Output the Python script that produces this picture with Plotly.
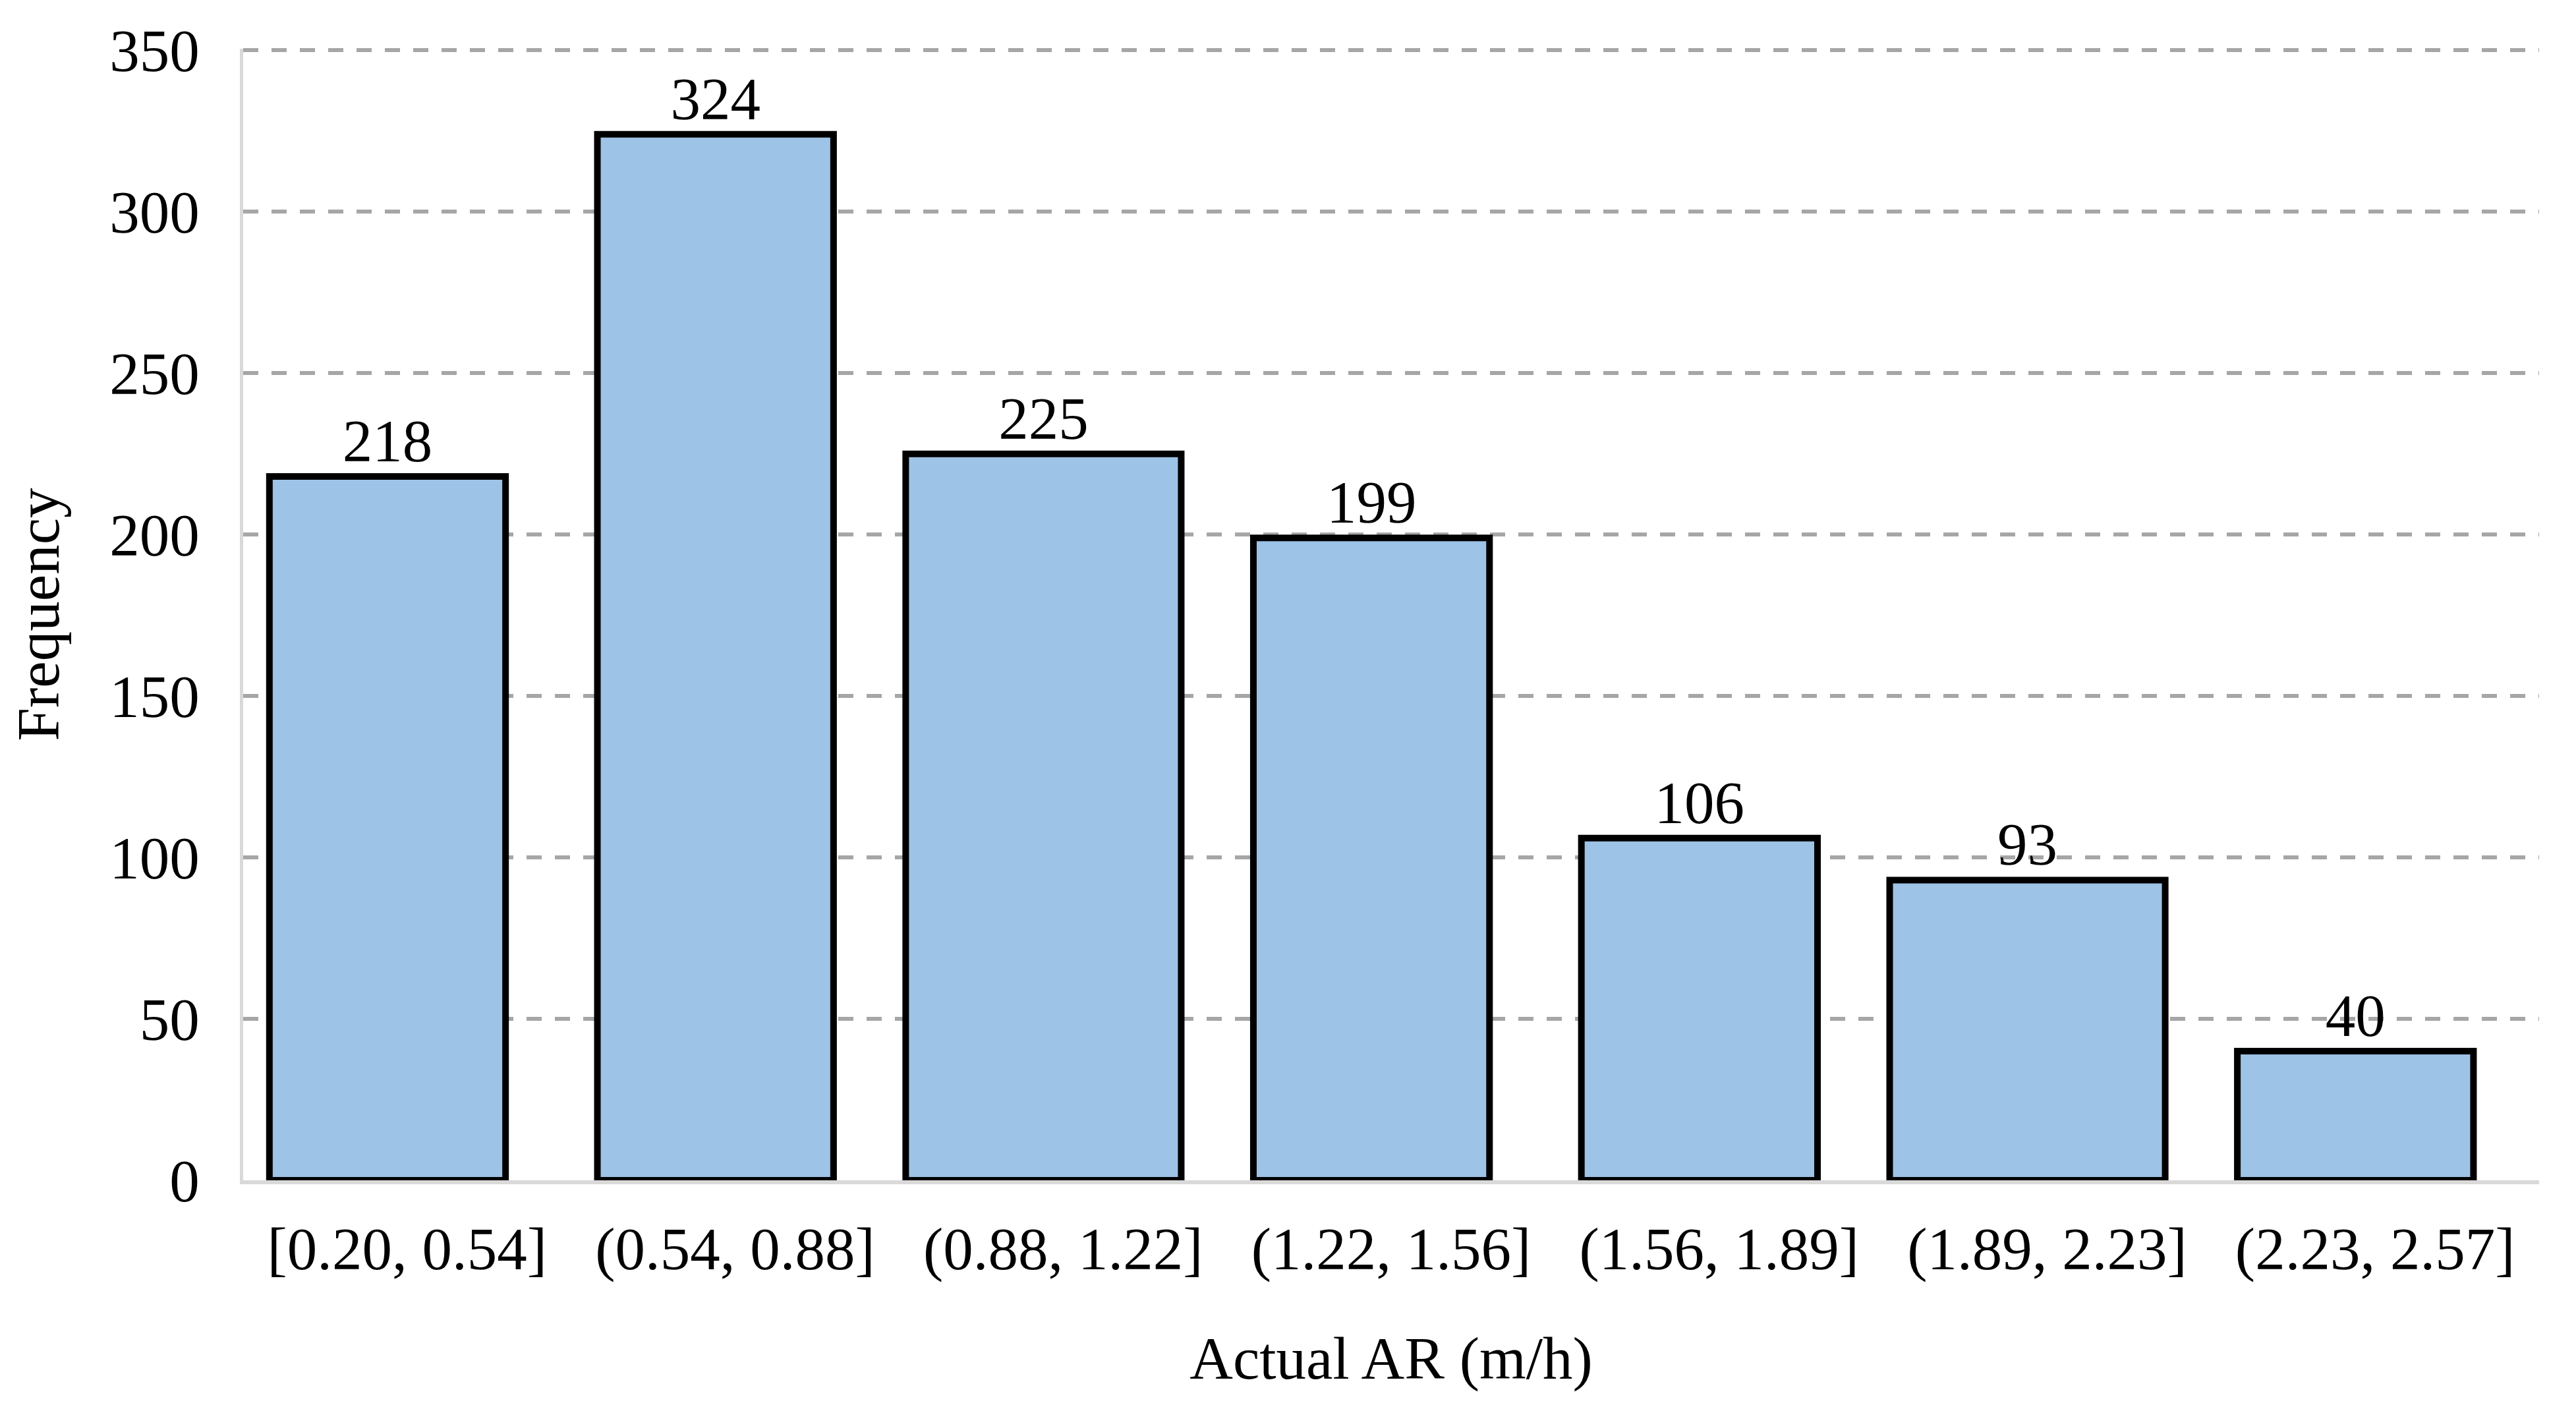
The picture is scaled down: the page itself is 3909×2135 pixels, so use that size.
import plotly.graph_objects as go

# ---- data ----
categories = ["[0.20, 0.54]", "(0.54, 0.88]", "(0.88, 1.22]", "(1.22, 1.56]",
              "(1.56, 1.89]", "(1.89, 2.23]", "(2.23, 2.57]"]
frequency = [218, 324, 225, 199, 106, 93, 40]
y_ticks = [0, 50, 100, 150, 200, 250, 300, 350]

# ---- style ----
FONT = "Liberation Serif, Times New Roman, serif"
FS = 91
bar_widths = [0.72, 0.72, 0.84, 0.72, 0.72, 0.84, 0.72]
shift = 0.06
bar_offsets = [-w / 2 - shift for w in bar_widths]

fig = go.Figure(
    go.Bar(
        x=categories,
        y=frequency,
        width=bar_widths,
        offset=bar_offsets,
        marker=dict(color="#9DC3E6", line=dict(color="#000000", width=10)),
        text=[str(v) for v in frequency],
        textposition="outside",
        textfont=dict(family=FONT, size=FS, color="#000000"),
        cliponaxis=False,
    )
)

fig.update_layout(
    width=3909,
    height=2135,
    margin=dict(l=361, r=64, t=66, b=352),
    paper_bgcolor="white",
    plot_bgcolor="white",
    showlegend=False,
    font=dict(family=FONT, size=FS, color="#000000"),
)

fig.update_xaxes(
    type="category",
    range=[-0.5, 6.5],
    showline=True,
    linecolor="#d9d9d9",
    linewidth=6,
    showgrid=False,
    ticks="",
    ticklabelstandoff=20,
    tickfont=dict(family=FONT, size=FS, color="#000000"),
    title=dict(text="Actual AR (m/h)", font=dict(family=FONT, size=FS, color="#000000"), standoff=85),
)

fig.update_yaxes(
    range=[0, 350.5],
    tickvals=y_ticks,
    showline=True,
    linecolor="#d9d9d9",
    linewidth=5,
    showgrid=True,
    gridcolor="#a6a6a6",
    gridwidth=6,
    griddash="23px,20px",
    zeroline=False,
    ticks="",
    ticklabelstandoff=43,
    tickfont=dict(family=FONT, size=FS, color="#000000"),
    title=dict(text="Frequency", font=dict(family=FONT, size=FS, color="#000000"), standoff=60),
)

fig.write_html("out.html")
